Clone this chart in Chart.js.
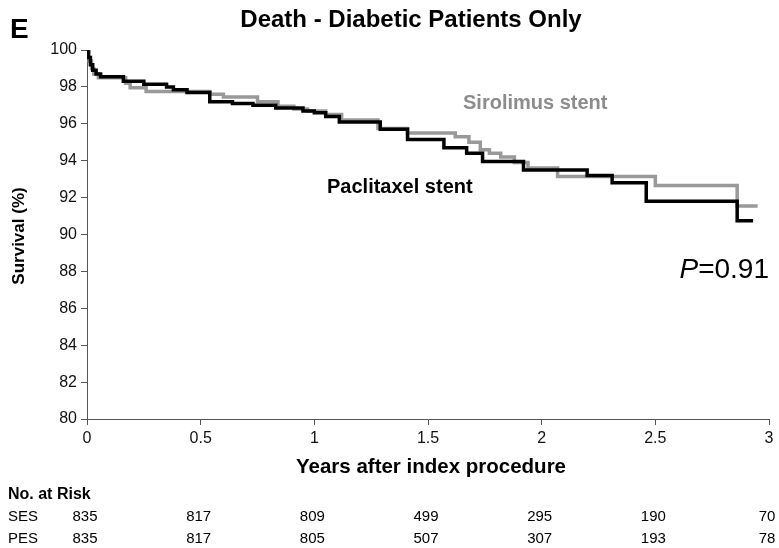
<!DOCTYPE html>
<html>
<head>
<meta charset="utf-8">
<script src="https://cdn.jsdelivr.net/npm/chart.js@4/dist/chart.umd.min.js"></script>
<style>
  html, body { margin: 0; padding: 0; background: #fff; }
  #wrap { width: 779px; height: 548px; position: relative; }
</style>
</head>
<body>
<div id="wrap"><canvas id="km" width="779" height="548"></canvas></div>
<script>
// Kaplan-Meier survival, death endpoint, diabetic patients
// event times (years) and survival (%) after each step
const sesTimes    = [0, 0.01, 0.02, 0.03, 0.05, 0.17, 0.19, 0.26, 0.54, 0.60, 0.75, 0.84, 0.91, 0.97, 1.05, 1.12, 1.28, 1.41, 1.62, 1.68, 1.73, 1.77, 1.82, 1.88, 1.94, 2.07, 2.50, 2.86, 2.95];
const sesSurvival = [100, 99.4, 99.0, 98.7, 98.5, 98.2, 97.95, 97.75, 97.6, 97.45, 97.2, 96.95, 96.8, 96.7, 96.5, 96.2, 95.75, 95.5, 95.3, 95.0, 94.6, 94.4, 94.2, 93.9, 93.6, 93.15, 92.65, 91.55, 91.55];

const pesTimes    = [0, 0.005, 0.015, 0.025, 0.04, 0.06, 0.16, 0.25, 0.35, 0.38, 0.44, 0.54, 0.64, 0.73, 0.83, 0.95, 1.00, 1.05, 1.11, 1.29, 1.41, 1.57, 1.67, 1.74, 1.92, 2.20, 2.31, 2.46, 2.86, 2.93];
const pesSurvival = [100, 99.6, 99.2, 98.9, 98.7, 98.55, 98.3, 98.15, 98.0, 97.85, 97.7, 97.2, 97.1, 97.0, 96.85, 96.7, 96.6, 96.4, 96.1, 95.7, 95.15, 94.7, 94.4, 93.95, 93.5, 93.2, 92.8, 91.8, 90.75, 90.75];

// axis ticks
const xTickValues = [0, 0.5, 1, 1.5, 2, 2.5, 3];
const yTickValues = [80, 82, 84, 86, 88, 90, 92, 94, 96, 98, 100];

// number at risk table
const riskTimes = [0, 0.5, 1, 1.5, 2, 2.5, 3];
const sesAtRisk = [835, 817, 809, 499, 295, 190, 70];
const pesAtRisk = [835, 817, 805, 507, 307, 193, 78];

const FONT = '"Liberation Sans", Arial, sans-serif';

function toPoints(ts, ys) { return ts.map((t, i) => ({ x: t, y: ys[i] })); }

function txt(ctx, s, x, y, opts) {
  ctx.save();
  ctx.font = (opts.italic ? 'italic ' : '') + (opts.bold ? 'bold ' : '') + opts.size + 'px ' + FONT;
  ctx.fillStyle = opts.color || '#000';
  ctx.textAlign = opts.align || 'left';
  ctx.textBaseline = 'alphabetic';
  ctx.translate(x, y);
  if (opts.rotate) ctx.rotate(opts.rotate);
  ctx.fillText(s, 0, 0);
  ctx.restore();
}

const annotations = {
  id: 'annotations',
  afterDraw(chart) {
    const ctx = chart.ctx;
    const xs = chart.scales.x;
    // panel letter and title
    txt(ctx, 'E', 10, 38, { size: 28, bold: true });
    txt(ctx, 'Death - Diabetic Patients Only', 411, 27, { size: 24, bold: true, align: 'center' });
    // axis titles
    txt(ctx, 'Survival (%)', 24, 236, { size: 17, bold: true, align: 'center', rotate: -Math.PI / 2 });
    txt(ctx, 'Years after index procedure', 431, 473, { size: 20.5, bold: true, align: 'center' });
    // curve labels
    txt(ctx, 'Sirolimus stent', 463, 109, { size: 20, bold: true, color: '#8c8c8c' });
    txt(ctx, 'Paclitaxel stent', 327, 193, { size: 20, bold: true });
    // p-value
    ctx.save();
    ctx.font = 'italic 28px ' + FONT;
    const pw = ctx.measureText('P').width;
    ctx.font = '28px ' + FONT;
    const rw = ctx.measureText('=0.91').width;
    ctx.restore();
    const pRight = 769;
    txt(ctx, 'P', pRight - rw - pw, 278, { size: 28, italic: true });
    txt(ctx, '=0.91', pRight - rw, 278, { size: 28 });
    // number at risk
    txt(ctx, 'No. at Risk', 8, 499, { size: 16, bold: true });
    txt(ctx, 'SES', 8, 521, { size: 15 });
    txt(ctx, 'PES', 8, 543, { size: 15 });
    riskTimes.forEach((t, i) => {
      const px = xs.getPixelForValue(t);
      txt(ctx, String(sesAtRisk[i]), px - 2, 521, { size: 15, align: 'center' });
      txt(ctx, String(pesAtRisk[i]), px - 2, 543, { size: 15, align: 'center' });
    });
  }
};

new Chart(document.getElementById('km'), {
  type: 'line',
  data: {
    datasets: [
      {
        label: 'Paclitaxel stent',
        data: toPoints(pesTimes, pesSurvival),
        borderColor: '#000',
        borderWidth: 3.5,
        stepped: 'before',
        pointRadius: 0,
        fill: false
      },
      {
        label: 'Sirolimus stent',
        data: toPoints(sesTimes, sesSurvival),
        borderColor: '#999',
        borderWidth: 3.5,
        stepped: 'before',
        pointRadius: 0,
        fill: false
      }
    ]
  },
  options: {
    responsive: false,
    animation: false,
    layout: { padding: { top: 50, right: 10, left: 0, bottom: 0 } },
    plugins: { legend: { display: false }, tooltip: { enabled: false }, title: { display: false } },
    scales: {
      x: {
        type: 'linear',
        min: 0, max: 3,
        afterBuildTicks: s => { s.ticks = xTickValues.map(v => ({ value: v })); },
        afterFit: s => { s.height = 129; },
        ticks: { font: { family: FONT, size: 16 }, color: '#111', padding: 4, maxRotation: 0,
                 callback: v => String(v) },
        grid: { drawOnChartArea: false, tickLength: 6, color: '#555' },
        border: { color: '#555', width: 1 }
      },
      y: {
        min: 80, max: 100,
        afterBuildTicks: s => { s.ticks = yTickValues.map(v => ({ value: v })); },
        afterFit: s => { s.width = 87; },
        ticks: { font: { family: FONT, size: 16 }, color: '#111', padding: 4 },
        grid: { drawOnChartArea: false, tickLength: 6, color: '#555' },
        border: { color: '#555', width: 1 }
      }
    }
  },
  plugins: [annotations]
});
</script>
</body>
</html>
